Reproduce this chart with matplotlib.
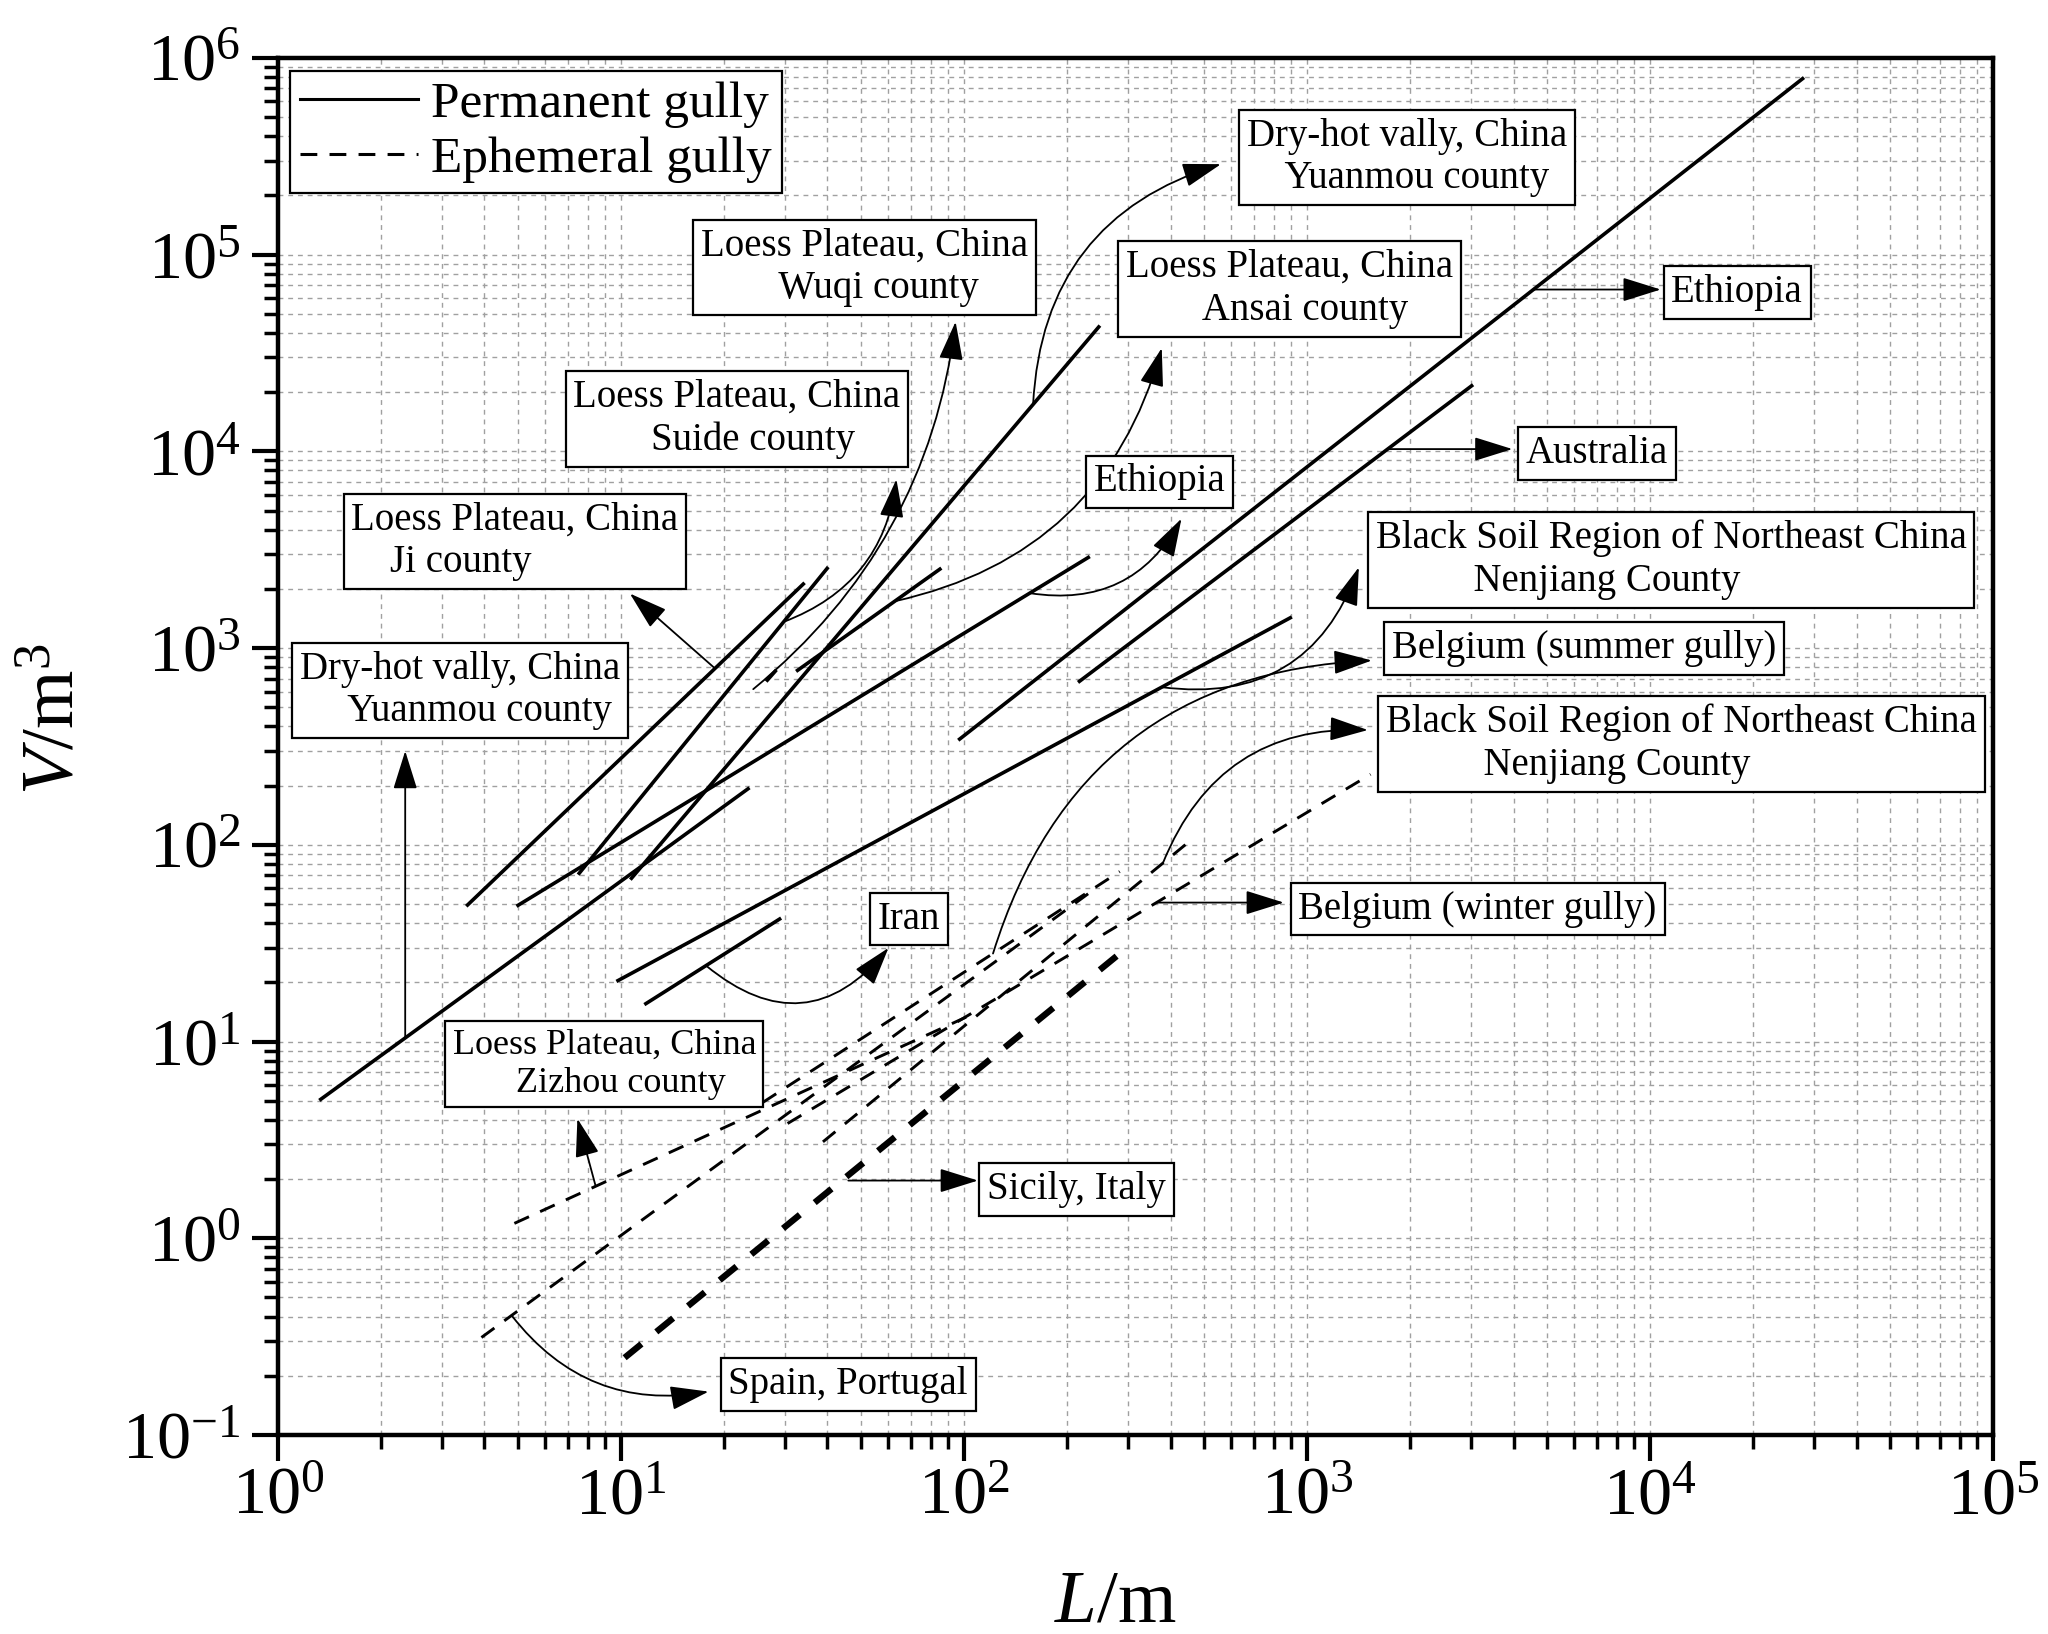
import matplotlib
matplotlib.use("Agg")
import matplotlib.pyplot as plt
import numpy as np
from matplotlib.lines import Line2D
from matplotlib.ticker import LogLocator, NullFormatter

# end points of each fitted V-L relation: gully length L (m), volume V (m3)
# permanent gullies (solid)
yuanmou_low_L = [1.32, 23.7]
yuanmou_low_V = [5.02, 195]
ji_L = [3.54, 34.3]
ji_V = [48.7, 2146]
ethiopia_s_L = [4.96, 232.7]
ethiopia_s_V = [48.7, 2919]
suide_L = [7.5, 40.2]
suide_V = [70.5, 2581]
yuanmou_up_L = [10.65, 249]
yuanmou_up_V = [66.5, 43560]
wuqi_L = [26.5, 28.4]
wuqi_V = [676, 775]
ansai_L = [32.4, 85.9]
ansai_V = [761, 2549]
ethiopia_l_L = [96.2, 28100]
ethiopia_l_V = [340, 7.94e5]
australia_L = [215, 3048]
australia_V = [669, 21800]
blacksoil_p_L = [9.7, 903]
blacksoil_p_V = [20.2, 1439]
iran_L = [11.7, 29.3]
iran_V = [15.4, 42.4]

# ephemeral gullies (dashed)
zizhou_L = [4.89, 101.4]
zizhou_V = [1.19, 13.3]
spain_L = [3.92, 238.5]
spain_V = [0.313, 59]
sicily_L = [10.25, 286]
sicily_V = [0.247, 28.2]
bel_summer_L = [25.9, 284.5]
bel_summer_V = [4.9, 73.1]
bel_winter_L = [30.6, 1532]
bel_winter_V = [3.83, 228]
blacksoil_e_L = [38.8, 454]
blacksoil_e_V = [3.09, 104]

plt.rcParams['font.family'] = 'Liberation Serif'
plt.rcParams['mathtext.fontset'] = 'custom'
plt.rcParams['mathtext.rm'] = 'Liberation Serif'
plt.rcParams['mathtext.it'] = 'Liberation Serif:italic'


def on_line(Ls, Vs, L):
    b = np.log(Vs[1] / Vs[0]) / np.log(Ls[1] / Ls[0])
    return Vs[0] * (L / Ls[0]) ** b


fig = plt.figure(figsize=(20.48, 16.34), dpi=100)
ax = fig.add_axes([0.1357, 0.1218, 0.8375, 0.8428])
ax.set_xscale('log')
ax.set_yscale('log')
ax.set_xlim(1, 1e5)
ax.set_ylim(0.1, 1e6)

solid = dict(color='black', lw=2.6, solid_capstyle='butt', zorder=3)
for L, V in [(yuanmou_low_L, yuanmou_low_V), (ji_L, ji_V), (ethiopia_s_L, ethiopia_s_V),
             (suide_L, suide_V), (yuanmou_up_L, yuanmou_up_V), (wuqi_L, wuqi_V),
             (ansai_L, ansai_V), (ethiopia_l_L, ethiopia_l_V), (australia_L, australia_V),
             (blacksoil_p_L, blacksoil_p_V), (iran_L, iran_V)]:
    ax.plot(L, V, **solid)

dashed = dict(color='black', lw=2.1, dashes=(5.5, 4.2), zorder=3)
for L, V in [(zizhou_L, zizhou_V), (spain_L, spain_V), (bel_summer_L, bel_summer_V),
             (bel_winter_L, bel_winter_V), (blacksoil_e_L, blacksoil_e_V)]:
    ax.plot(L, V, **dashed)
ax.plot(sicily_L, sicily_V, color='black', lw=4.6, dashes=(3.4, 3.0), zorder=3)

# axes styling
for s in ax.spines.values():
    s.set_linewidth(3.2)
ax.xaxis.set_major_locator(LogLocator(base=10, numticks=10))
ax.yaxis.set_major_locator(LogLocator(base=10, numticks=12))
ax.xaxis.set_minor_locator(LogLocator(base=10, subs=np.arange(2, 10), numticks=20))
ax.yaxis.set_minor_locator(LogLocator(base=10, subs=np.arange(2, 10), numticks=20))
ax.xaxis.set_minor_formatter(NullFormatter())
ax.yaxis.set_minor_formatter(NullFormatter())
ax.tick_params(which='major', direction='out', length=19, width=3, labelsize=49,
               top=False, right=False)
ax.tick_params(which='minor', direction='out', length=10, width=2.5, top=False, right=False)
ax.tick_params(axis='x', which='major', pad=4)
ax.tick_params(axis='y', which='major', pad=8)
ax.set_axisbelow(True)
ax.grid(True, which='both', color='#a0a0a0', lw=1.0, dashes=(3.5, 3.5))

ax.set_xlabel(r'$\mathit{L}$/m', fontsize=54)
ax.set_ylabel(r'$\mathit{V}$/m$^{3}$', fontsize=54)
ax.xaxis.set_label_coords(0.4885, -0.098)
ax.yaxis.set_label_coords(-0.110, 0.52)

# legend
handles = [Line2D([], [], color='black', lw=2.2),
           Line2D([], [], color='black', lw=2.2, dashes=(5.5, 4.0))]
leg = ax.legend(handles, ['Permanent gully', 'Ephemeral gully'], loc='upper left',
                bbox_to_anchor=(0.007, 0.9905), borderaxespad=0, fontsize=37,
                handlelength=2.3, handletextpad=0.25, borderpad=0.2, labelspacing=0.15,
                fancybox=False, framealpha=1, edgecolor='black')
leg.get_frame().set_linewidth(1.6)
leg.set_zorder(8)


def label_box(text, fx, fy, size=28):
    ax.text(fx, fy, text, transform=ax.transAxes, fontsize=size, ha='left', va='center',
            linespacing=1.2, zorder=7,
            bbox=dict(boxstyle='square,pad=0.2', fc='white', ec='black', lw=1.6))


def pointer(tail, head, rad=0.0, head_coords='axes fraction'):
    ax.annotate('', xy=head, xycoords=head_coords, xytext=tail, textcoords='data',
                zorder=6,
                arrowprops=dict(arrowstyle='-|>,head_length=0.8,head_width=0.25',
                                mutation_scale=30, color='black', lw=1.3,
                                shrinkA=0, shrinkB=0,
                                connectionstyle='arc3,rad=%s' % rad))


label_box('Loess Plateau, China\n    Ji county', 0.0429, 0.6487)
label_box('Dry-hot vally, China\n     Yuanmou county', 0.0130, 0.5405)
label_box('Loess Plateau, China\n        Suide county', 0.1723, 0.7378)
label_box('Loess Plateau, China\n        Wuqi county', 0.2466, 0.848)
label_box('Loess Plateau, China\n        Ansai county', 0.4946, 0.8322)
label_box('Dry-hot vally, China\n    Yuanmou county', 0.5651, 0.9276)
label_box('Ethiopia', 0.4755, 0.6921)
label_box('Ethiopia', 0.8124, 0.8298)
label_box('Australia', 0.7274, 0.7126)
label_box('Black Soil Region of Northeast China\n          Nenjiang County', 0.6401, 0.6354)
label_box('Belgium (summer gully)', 0.6493, 0.571)
label_box('Black Soil Region of Northeast China\n          Nenjiang County', 0.6462, 0.5019)
label_box('Belgium (winter gully)', 0.595, 0.3818)
label_box('Iran', 0.3499, 0.3746)
label_box('Loess Plateau, China\n       Zizhou county', 0.1018, 0.2693, size=26)
label_box('Sicily, Italy', 0.4135, 0.1783)
label_box('Spain, Portugal', 0.2626, 0.0367)

# arrows from each relation to its label
pointer((18.8, on_line(ji_L, ji_V, 18.8)), (0.2052, 0.611))
pointer((2.35, on_line(yuanmou_low_L, yuanmou_low_V, 2.35)), (2.35, 0.4967),
        head_coords=('data', 'axes fraction'))
pointer((29.8, on_line(suide_L, suide_V, 29.8)), (0.3606, 0.694), rad=0.3)
pointer((24.3, 618), (0.3951, 0.8084), rad=0.2)
pointer((159, on_line(yuanmou_up_L, yuanmou_up_V, 159)), (0.5498, 0.9228), rad=-0.35)
pointer((62.8, on_line(ansai_L, ansai_V, 62.8)), (0.5153, 0.7893), rad=0.3)
pointer((155.5, on_line(ethiopia_s_L, ethiopia_s_V, 155.5)), (0.5268, 0.6654), rad=0.35)
v = on_line(ethiopia_l_L, ethiopia_l_V, 4571)
pointer((4571, v), (10744, v), head_coords='data')
v = on_line(australia_L, australia_V, 1718)
pointer((1718, v), (3970, v), head_coords='data')
pointer((377, on_line(blacksoil_p_L, blacksoil_p_V, 377)), (0.6302, 0.6301), rad=0.4)
pointer((121.5, on_line(bel_summer_L, bel_summer_V, 121.5)), (0.6378, 0.5624), rad=-0.35)
pointer((380, on_line(blacksoil_e_L, blacksoil_e_V, 380)), (0.6355, 0.5119), rad=-0.35)
v = on_line(bel_winter_L, bel_winter_V, 364)
pointer((364, v), (856, v), head_coords='data')
pointer((17.7, on_line(iran_L, iran_V, 17.7)), (0.356, 0.3537), rad=0.5)
pointer((8.44, on_line(zizhou_L, zizhou_V, 8.44)), (0.1746, 0.2297))
v = on_line(sicily_L, sicily_V, 44)
pointer((46, v), (109.8, v), head_coords='data')
pointer((4.8, on_line(spain_L, spain_V, 4.8)), (0.2511, 0.0315), rad=0.3)

fig.savefig('out.png', dpi=100)
